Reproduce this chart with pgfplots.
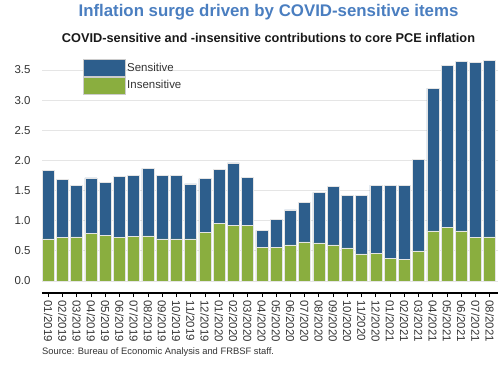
\documentclass[border=0pt]{standalone}
\usepackage{pgfplots}
\pgfplotsset{compat=1.18}
\usepackage{fontspec}
\setmainfont{Liberation Sans}
\definecolor{sens}{HTML}{2D5E8C}
\definecolor{insens}{HTML}{8AAE3F}
\definecolor{titleblue}{HTML}{4A7EC0}
\definecolor{txt}{HTML}{333333}
\begin{document}
\begin{tikzpicture}
\path[use as bounding box] (0,0) rectangle (500bp,365bp);
\node[font=\bfseries\fontsize{16.9}{19}\selectfont, text=titleblue] at (268.5bp,353bp) {Inflation surge driven by COVID-sensitive items};
\node[font=\bfseries\fontsize{12.8}{15}\selectfont, text=black!90] at (268.5bp,327bp) {COVID-sensitive and -insensitive contributions to core PCE inflation};
\node[font=\fontsize{9.4}{11}\selectfont, text=txt, anchor=west, inner sep=0pt] at (42bp,13bp) {Source: Bureau of Economic Analysis and FRBSF staff.};
\begin{axis}[
  at={(42bp,72bp)}, anchor=south west,
  scale only axis, width=456bp, height=235bp,
  ybar stacked, bar width=12bp,
  xmin=-0.43, xmax=31.58, ymin=-0.2, ymax=3.7,
  axis x line*=bottom, axis y line*=left,
  x axis line style={black, line width=1.2pt},
  y axis line style={draw=none},
  ytick={0,0.5,1,1.5,2,2.5,3,3.5},
  y tick label style={/pgf/number format/fixed, /pgf/number format/fixed zerofill, /pgf/number format/precision=1, /pgf/number format/assume math mode=true, xshift=-4bp},
  ymajorgrids, grid style={black!10, line width=0.8pt},
  ytick style={draw=none},
  xtick={0,...,31},
  xticklabels={01/2019,02/2019,03/2019,04/2019,05/2019,06/2019,07/2019,08/2019,09/2019,10/2019,11/2019,12/2019,01/2020,02/2020,03/2020,04/2020,05/2020,06/2020,07/2020,08/2020,09/2020,10/2020,11/2020,12/2020,01/2021,02/2021,03/2021,04/2021,05/2021,06/2021,07/2021,08/2021},
  x tick label style={rotate=-90, anchor=west},
  xtick style={black, line width=0.6pt},
  tick align=outside, major tick length=4bp,
  tick label style={font=\fontsize{11.5}{12}\selectfont, text=txt},
  legend style={at={(axis description cs:0.09,0.996)}, anchor=north west, draw=none, fill=none,
    font=\fontsize{11.5}{12}\selectfont, text=txt, row sep=0pt, inner sep=0pt, nodes={inner sep=1.5pt}},
  legend cell align=left,
  legend image code/.code={\draw[#1, draw=black!20] (0bp,-8.5bp) rectangle (42bp,8.5bp);},
  reverse legend,
]
\addplot[fill=insens, draw=white!80!gray, line width=0.5pt] coordinates {
(0,0.70) (1,0.72) (2,0.73) (3,0.79) (4,0.76) (5,0.72) (6,0.74) (7,0.75)
(8,0.70) (9,0.70) (10,0.70) (11,0.80) (12,0.95) (13,0.92) (14,0.92) (15,0.56)
(16,0.56) (17,0.60) (18,0.65) (19,0.63) (20,0.60) (21,0.55) (22,0.45) (23,0.46)
(24,0.38) (25,0.36) (26,0.50) (27,0.83) (28,0.89) (29,0.83) (30,0.72) (31,0.73)};
\addlegendentry{Insensitive}
\addplot[fill=sens, draw=white!80!gray, line width=0.5pt] coordinates {
(0,1.14) (1,0.97) (2,0.86) (3,0.92) (4,0.87) (5,1.01) (6,1.01) (7,1.12)
(8,1.05) (9,1.05) (10,0.91) (11,0.90) (12,0.90) (13,1.04) (14,0.80) (15,0.28)
(16,0.46) (17,0.58) (18,0.65) (19,0.84) (20,0.97) (21,0.87) (22,0.97) (23,1.13)
(24,1.20) (25,1.23) (26,1.52) (27,2.37) (28,2.69) (29,2.82) (30,2.91) (31,2.93)};
\addlegendentry{Sensitive}
\end{axis}
\end{tikzpicture}
\end{document}
